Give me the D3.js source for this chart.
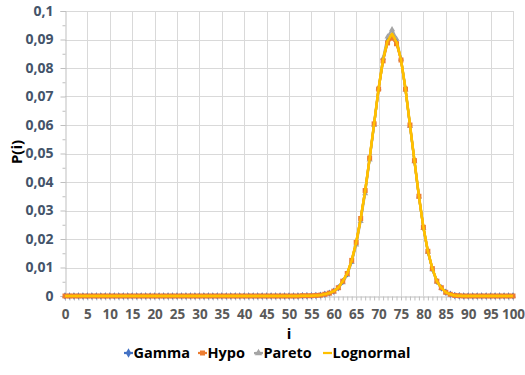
<!DOCTYPE html>
<html>
<head>
<meta charset="utf-8">
<script src="https://cdn.jsdelivr.net/npm/d3@7"></script>
<style>
  html, body { margin: 0; padding: 0; background: #fff; }
  svg { display: block; font-family: "Open Sans", "Liberation Sans", sans-serif; }
</style>
</head>
<body>
<svg id="chart" width="525" height="375"></svg>
<script>
// Category positions i = 0..100
const categories = d3.range(0, 101);

// P(i) for each model, listed from i = 0 up to i = 100
const zeros = n => new Array(n).fill(0);

const gamma = [].concat(zeros(53), [
  0.0001, 0.0001, 0.0001, 0.0002, 0.0003, 0.0006, 0.0010, 0.0017, 0.0029, 0.0051,
  0.0078, 0.0123, 0.0186, 0.0270, 0.0368, 0.0483, 0.0604, 0.0727, 0.0828, 0.0893,
  0.0913, 0.0890, 0.0830, 0.0727, 0.0600, 0.0474, 0.0349, 0.0240, 0.0156, 0.0095,
  0.0052, 0.0028, 0.0013, 0.0006, 0.0002, 0.0001
], zeros(12));

const hypo = [].concat(zeros(53), [
  0.0001, 0.0001, 0.0001, 0.0002, 0.0003, 0.0006, 0.0010, 0.0017, 0.0029, 0.0052,
  0.0079, 0.0125, 0.0188, 0.0272, 0.0370, 0.0484, 0.0604, 0.0726, 0.0825, 0.0888,
  0.0905, 0.0885, 0.0828, 0.0726, 0.0600, 0.0475, 0.0350, 0.0241, 0.0157, 0.0096,
  0.0052, 0.0029, 0.0013, 0.0006, 0.0002, 0.0001
], zeros(12));

const pareto = [].concat(zeros(53), [
  0.0001, 0.0001, 0.0001, 0.0001, 0.0002, 0.0005, 0.0009, 0.0015, 0.0027, 0.0047,
  0.0074, 0.0118, 0.0180, 0.0262, 0.0360, 0.0478, 0.0600, 0.0728, 0.0835, 0.0910,
  0.0935, 0.0902, 0.0832, 0.0724, 0.0596, 0.0472, 0.0348, 0.0238, 0.0154, 0.0093,
  0.0050, 0.0027, 0.0012, 0.0005, 0.0002, 0.0001
], zeros(12));

const lognormal = [].concat(zeros(53), [
  0.0001, 0.0001, 0.0001, 0.0002, 0.0003, 0.0006, 0.0010, 0.0017, 0.0029, 0.0052,
  0.0079, 0.0125, 0.0188, 0.0271, 0.0369, 0.0484, 0.0605, 0.0728, 0.0830, 0.0895,
  0.0920, 0.0892, 0.0830, 0.0727, 0.0601, 0.0475, 0.0350, 0.0241, 0.0157, 0.0096,
  0.0052, 0.0029, 0.0013, 0.0006, 0.0002, 0.0001
], zeros(12));

const seriesNames = ["Gamma", "Hypo", "Pareto", "Lognormal"];
const seriesValues = [gamma, hypo, pareto, lognormal];
const seriesColors = ["#4472c4", "#ed7d31", "#a5a5a5", "#ffc000"];
const seriesMarkers = ["diamond", "square", "triangle", null];

const yTicks = d3.range(0, 0.1001, 0.01);
const yTickLabels = ["0", "0,01", "0,02", "0,03", "0,04", "0,05", "0,06", "0,07", "0,08", "0,09", "0,1"];
const xTickLabels = d3.range(0, 101, 5);

const svg = d3.select("#chart");
const plot = { left: 65, right: 513, top: 11, bottom: 296 };

const x = d3.scaleLinear().domain([0, 100]).range([plot.left, plot.right]);
const y = d3.scaleLinear().domain([0, 0.1]).range([plot.bottom, plot.top]);

// Gridlines
const grid = svg.append("g");
grid.selectAll("line.h").data(yTicks.slice(1)).join("line")
  .attr("x1", plot.left).attr("x2", plot.right + 1)
  .attr("y1", d => Math.round(y(d)) + 0.5).attr("y2", d => Math.round(y(d)) + 0.5)
  .attr("stroke", "#d9d9d9").attr("stroke-width", 1);
grid.selectAll("line.v").data(xTickLabels.slice(1)).join("line")
  .attr("x1", d => Math.round(x(d)) + 0.5).attr("x2", d => Math.round(x(d)) + 0.5)
  .attr("y1", plot.top).attr("y2", plot.bottom)
  .attr("stroke", "#d9d9d9").attr("stroke-width", 1);

// Y axis with major ticks every 0.01 and minor ticks between
const yAxis = d3.axisLeft(y)
  .tickValues(yTicks)
  .tickSize(5)
  .tickPadding(7)
  .tickFormat((d, i) => yTickLabels[i]);
const yg = svg.append("g").attr("transform", `translate(${plot.left + 0.5},0)`).call(yAxis);
yg.select(".domain").attr("stroke", "#bfbfbf");
yg.selectAll(".tick line").attr("stroke", "#bfbfbf");
yg.selectAll(".tick text")
  .attr("fill", "#44546a").attr("font-size", "14px").attr("font-weight", "bold")
  .attr("font-family", "'Open Sans', sans-serif");
const yMinor = d3.axisLeft(y).tickValues(d3.range(0.005, 0.1, 0.01)).tickSize(3).tickFormat("");
const ymg = svg.append("g").attr("transform", `translate(${plot.left + 0.5},0)`).call(yMinor);
ymg.select(".domain").remove();
ymg.selectAll(".tick line").attr("stroke", "#bfbfbf");

// X axis: a small tick at every category, labels every 5
const xAxis = d3.axisBottom(x).tickValues(categories).tickSize(4).tickFormat("");
const xg = svg.append("g").attr("transform", `translate(0,${plot.bottom + 0.5})`).call(xAxis);
xg.select(".domain").attr("stroke", "#bfbfbf");
xg.selectAll(".tick line").attr("stroke", "#bfbfbf");
const xLab = d3.axisBottom(x).tickValues(xTickLabels).tickSize(0).tickPadding(13).tickFormat(d => d);
const xlg = svg.append("g").attr("transform", `translate(0,${plot.bottom + 0.5})`).call(xLab);
xlg.select(".domain").remove();
xlg.selectAll(".tick text")
  .attr("fill", "#595959").attr("font-size", "13.5px").attr("font-weight", "bold")
  .attr("font-family", "'Open Sans', sans-serif");

// Axis titles
svg.append("text")
  .attr("transform", `translate(22,152) rotate(-90)`)
  .attr("text-anchor", "middle")
  .attr("font-size", "15px").attr("font-weight", "bold").attr("fill", "#000")
  .text("P(i)");
svg.append("text")
  .attr("x", 289).attr("y", 339)
  .attr("text-anchor", "middle")
  .attr("font-size", "15px").attr("font-weight", "bold").attr("fill", "#000")
  .text("i");

// Series lines
const line = d3.line().x((d, i) => x(categories[i])).y(d => y(d));
const lines = svg.append("g");
seriesValues.forEach((vals, k) => {
  lines.append("path")
    .datum(vals)
    .attr("d", line)
    .attr("fill", "none")
    .attr("stroke", seriesColors[k])
    .attr("stroke-width", k === 3 ? 2.5 : 2.25)
    .attr("stroke-linejoin", "round");
});

// Series markers: triangles and diamonds first, squares on top
const symbolType = { diamond: d3.symbolDiamond, square: d3.symbolSquare, triangle: d3.symbolTriangle };
const symbolSize = { diamond: 16, square: 25, triangle: 16 };
const markers = svg.append("g");
[2, 0, 1].forEach(k => {
  const m = seriesMarkers[k];
  markers.append("g").selectAll("path").data(seriesValues[k]).join("path")
    .attr("transform", (d, i) => `translate(${x(categories[i])},${y(d)})`)
    .attr("d", d3.symbol().type(symbolType[m]).size(symbolSize[m]))
    .attr("fill", seriesColors[k]);
});

// Lognormal line runs over the markers
svg.append("path")
  .datum(lognormal)
  .attr("d", line)
  .attr("fill", "none")
  .attr("stroke", seriesColors[3])
  .attr("stroke-width", 2.5)
  .attr("stroke-linejoin", "round");

// Legend
const legendItems = [
  { x: 124, name: "Gamma", k: 0 },
  { x: 198, name: "Hypo", k: 1 },
  { x: 254, name: "Pareto", k: 2 },
  { x: 323, name: "Lognormal", k: 3 }
];
const legendMarkerSize = { diamond: 26, square: 25, triangle: 24 };
const lg = svg.append("g").attr("transform", "translate(0,353)");
legendItems.forEach(it => {
  const g = lg.append("g").attr("transform", `translate(${it.x},0)`);
  g.append("line").attr("x1", 0).attr("x2", 9).attr("y1", 0).attr("y2", 0)
    .attr("stroke", seriesColors[it.k]).attr("stroke-width", 2.25);
  const m = seriesMarkers[it.k];
  if (m) {
    g.append("path").attr("transform", "translate(4.5,0)")
      .attr("d", d3.symbol().type(symbolType[m]).size(legendMarkerSize[m]))
      .attr("fill", seriesColors[it.k]);
  }
  g.append("text").attr("x", 9.5).attr("y", 5)
    .attr("font-size", "14.5px").attr("font-weight", "bold").attr("fill", "#000")
    .text(it.name);
});
</script>
</body>
</html>
